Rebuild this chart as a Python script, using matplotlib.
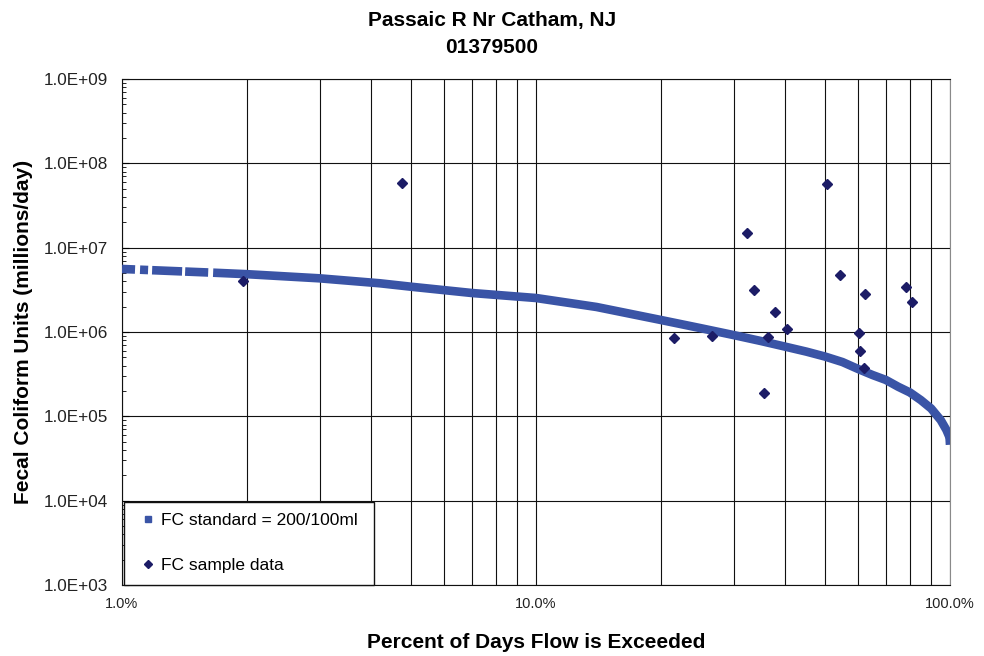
import matplotlib
matplotlib.use("Agg")
import matplotlib.pyplot as plt
from matplotlib.ticker import FuncFormatter, LogLocator, NullFormatter

# ---- load-duration curve (FC standard) ----
curve_pct = [1.66, 2.0, 3.0, 4.2, 5.0, 7.0, 10.0, 14.0, 20.0, 25.0, 30.0,
             35.0, 40.0, 45.0, 50.0, 55.0, 60.0, 65.0, 70.0, 75.0, 80.0,
             85.0, 90.0, 95.0, 98.0, 99.5, 99.8, 100.0]
curve_val = [5.05e6, 4.85e6, 4.33e6, 3.78e6, 3.44e6, 2.9e6, 2.53e6, 1.98e6,
             1.39e6, 1.11e6, 9.2e5, 7.8e5, 6.7e5, 5.85e5, 5.1e5, 4.4e5,
             3.64e5, 3.09e5, 2.7e5, 2.24e5, 1.92e5, 1.56e5, 1.24e5, 9.0e4,
             6.9e4, 5.8e4, 5.4e4, 4.6e4]
# sparse high-flow end of the curve (few days -> gaps between points)
head_pct = [1.0, 1.66]
head_val = [5.59e6, 5.05e6]

# ---- measured samples ----
samp_pct = [1.96, 4.75, 21.5, 26.6, 32.4, 33.6, 35.5, 36.4, 37.7, 40.4,
            50.4, 54.3, 60.3, 60.6, 62.1, 62.5, 78.4, 80.8]
samp_val = [4.03e6, 5.85e7, 8.4e5, 9.0e5, 1.48e7, 3.18e6, 1.88e5, 8.7e5,
            1.74e6, 1.08e6, 5.74e7, 4.7e6, 9.8e5, 5.9e5, 3.7e5, 2.82e6,
            3.39e6, 2.27e6]

title_txt = "Passaic R Nr Catham, NJ\n01379500"
std_label = "FC standard = 200/100ml"
samp_label = "FC sample data"

BLUE = "#3a54a6"
NAVY = "#1c1c66"

plt.rcParams["font.family"] = ["Liberation Sans", "DejaVu Sans"]
plt.rcParams["lines.scale_dashes"] = False

fig = plt.figure(figsize=(9.84, 6.56), dpi=100)
ax = fig.add_axes([122 / 984, 71 / 656, 828 / 984, 506 / 656])

ax.set_xscale("log")
ax.set_yscale("log")
ax.set_xlim(1, 100)
ax.set_ylim(1e3, 1e9)

# grid: every 1..10 / 10..100 vertically, decades horizontally
ax.xaxis.set_minor_locator(LogLocator(base=10, subs=range(2, 10)))
ax.grid(True, which="both", axis="x", color="#111111", lw=0.8)
ax.grid(True, which="major", axis="y", color="#111111", lw=0.8)
ax.set_axisbelow(True)

# curve
ax.plot(head_pct, head_val, color=BLUE, lw=6.2, solid_capstyle="butt",
        dash_capstyle="butt",
        dashes=[9.4, 3.6, 5.8, 2.9, 21.6, 2.2, 16.6, 3.6], zorder=3)
ax.plot(curve_pct, curve_val, color=BLUE, lw=6.2, solid_capstyle="butt",
        solid_joinstyle="round", zorder=3)

# samples
ax.plot(samp_pct, samp_val, linestyle="none", marker="D", ms=5.2,
        color=NAVY, zorder=4)

# legend proxies
h1, = ax.plot([], [], linestyle="none", marker="s", ms=4.5, color=BLUE,
              label=std_label)
h2, = ax.plot([], [], linestyle="none", marker="D", ms=4, color=NAVY,
              label=samp_label)
leg = ax.legend(handles=[h1, h2], loc="lower left",
                bbox_to_anchor=(0.0024, 0.0, 0.302, 0.164), mode="expand",
                borderaxespad=0, fontsize=12.5, labelspacing=1.72,
                borderpad=0.67, handlelength=1.4, handletextpad=0.05,
                numpoints=1, fancybox=False, framealpha=1,
                edgecolor="#111111")
leg.get_frame().set_linewidth(1.0)
leg.set_zorder(10)

# ticks
ax.xaxis.set_major_formatter(FuncFormatter(lambda v, p: f"{v:.1f}%"))
ax.xaxis.set_minor_formatter(NullFormatter())
ax.yaxis.set_major_formatter(FuncFormatter(lambda v, p: f"{v:.1E}"))
ax.yaxis.set_minor_locator(LogLocator(base=10, subs=range(2, 10)))
ax.tick_params(axis="x", which="both", length=0, pad=8.5,
               labelsize=10.5, labelcolor="#222222")
ax.tick_params(axis="y", which="major", direction="in", length=5,
               pad=10, labelsize=12.3, labelcolor="#222222")
ax.tick_params(axis="y", which="minor", direction="in", length=3)

for s in ["left", "bottom", "top"]:
    ax.spines[s].set_color("#111111")
ax.spines["right"].set_color("#8a8a8a")

ax.set_xlabel("Percent of Days Flow is Exceeded", fontsize=15,
              fontweight="bold")
ax.xaxis.set_label_coords(0.5, -0.094)
ax.set_ylabel("Fecal Coliform Units (millions/day)", fontsize=15,
              fontweight="bold")
ax.yaxis.set_label_coords(-0.108, 0.5)

fig.suptitle(title_txt, x=0.5, y=1 - 11 / 656, va="top", fontsize=15,
             fontweight="bold", linespacing=1.55)

fig.savefig("out.png", dpi=100)
